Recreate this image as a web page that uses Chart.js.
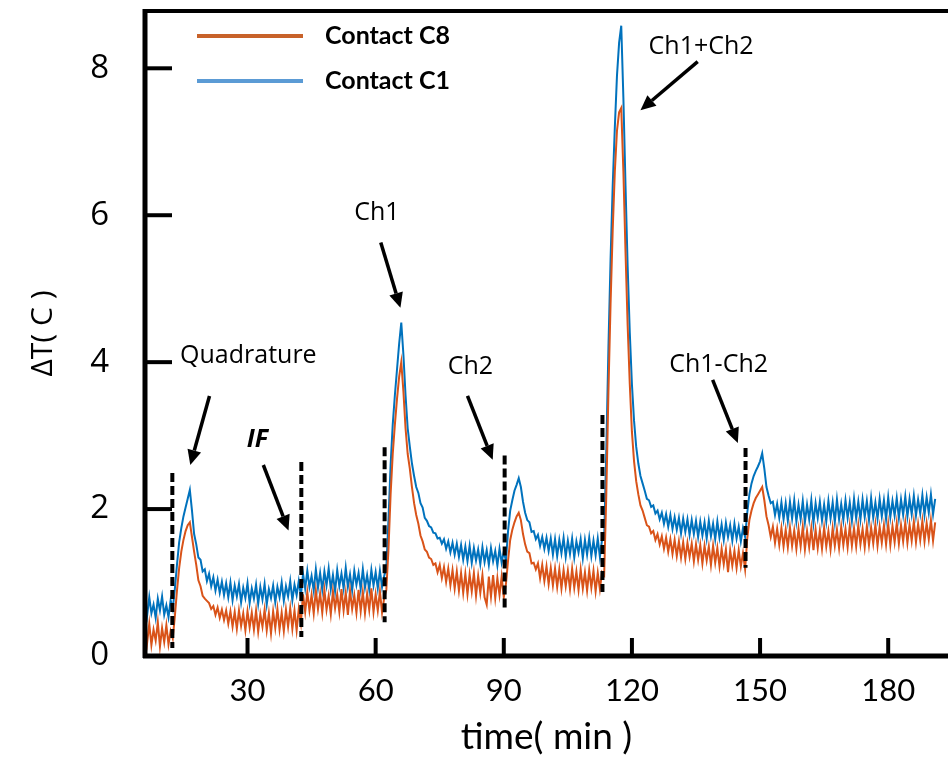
<!DOCTYPE html>
<html>
<head>
<meta charset="utf-8">
<script src="https://cdn.jsdelivr.net/npm/chart.js@4.4.1/dist/chart.umd.min.js"></script>
<style>
  html, body { margin: 0; padding: 0; background: #fff; }
</style>
</head>
<body>
<canvas id="tempChart" width="952" height="760"></canvas>
<script>
// samples are every half minute, starting at 6 min
var sampleStart = 6;
var sampleStep = 0.5;

var xTickValues = [30, 60, 90, 120, 150, 180];
var yTickValues = [0, 2, 4, 6, 8];

// Contact C1 (blue)
var contactC1 = [
  0.74,0.55,0.80,0.58,0.70,0.52,0.78,0.62,0.81,0.56,
  0.69,0.53,0.76,0.64,0.92,1.25,1.55,1.74,1.90,2.02,
  2.14,2.26,1.98,1.66,1.52,1.34,1.31,1.15,1.18,1.02,
  1.12,0.95,1.07,0.89,1.04,0.86,1.01,0.83,0.99,0.80,
  1.00,0.76,0.96,0.81,0.98,0.73,0.93,0.79,0.99,0.72,
  0.92,0.78,0.97,0.71,0.94,0.77,0.98,0.70,0.91,0.79,
  0.96,0.73,0.94,0.80,1.00,0.75,0.95,0.81,1.02,0.76,
  0.97,0.83,1.02,0.82,1.12,0.92,1.16,0.94,1.09,0.89,
  1.18,0.93,1.13,0.90,1.15,0.96,1.19,0.91,1.10,0.88,
  1.17,0.95,1.12,0.92,1.20,0.94,1.11,0.89,1.16,0.97,
  1.13,0.91,1.18,0.93,1.10,0.90,1.17,0.96,1.14,0.92,
  1.16,0.94,1.09,1.20,1.85,2.60,3.15,3.55,3.90,4.25,
  4.54,4.10,3.55,3.10,2.85,2.62,2.45,2.30,2.22,2.08,
  2.02,1.88,1.84,1.77,1.75,1.68,1.67,1.60,1.61,1.53,
  1.59,1.46,1.56,1.41,1.54,1.38,1.53,1.35,1.51,1.31,
  1.49,1.29,1.50,1.27,1.47,1.30,1.45,1.25,1.48,1.28,
  1.44,1.24,1.47,1.29,1.43,1.23,1.46,1.27,1.42,1.30,
  1.70,1.98,2.12,2.25,2.33,2.42,2.30,2.10,1.95,1.85,
  1.82,1.69,1.70,1.59,1.65,1.50,1.62,1.46,1.61,1.43,
  1.60,1.38,1.59,1.36,1.58,1.40,1.61,1.35,1.57,1.39,
  1.60,1.34,1.56,1.41,1.59,1.33,1.58,1.38,1.61,1.36,
  1.57,1.37,1.60,1.35,1.58,1.60,2.80,4.20,5.40,6.40,
  7.20,7.90,8.35,8.58,7.60,6.40,5.30,4.40,3.70,3.20,
  2.85,2.62,2.45,2.35,2.25,2.14,2.12,2.03,2.05,1.94,
  1.98,1.86,1.95,1.80,1.93,1.76,1.92,1.73,1.89,1.72,
  1.88,1.67,1.87,1.69,1.86,1.65,1.85,1.66,1.84,1.62,
  1.83,1.64,1.82,1.60,1.84,1.63,1.80,1.59,1.83,1.61,
  1.79,1.58,1.81,1.62,1.78,1.57,1.80,1.60,1.76,1.56,
  1.74,1.62,1.95,2.20,2.35,2.45,2.52,2.58,2.65,2.76,
  2.55,2.30,2.18,2.08,2.10,1.92,2.07,1.88,2.09,1.86,
  2.08,1.84,2.10,1.87,2.12,1.83,2.06,1.86,2.11,1.82,
  2.06,1.86,2.12,1.81,2.08,1.88,2.10,1.84,2.06,1.83,
  2.11,1.87,2.09,1.82,2.13,1.86,2.07,1.85,2.12,1.88,
  2.09,1.84,2.14,1.87,2.10,1.86,2.13,1.89,2.11,1.85,
  2.15,1.88,2.09,1.87,2.14,1.90,2.12,1.86,2.16,1.89,
  2.11,1.91,2.15,1.88,2.13,1.92,2.17,1.90,2.14,1.93,
  2.18,1.91,2.13,1.94,2.19,1.92,2.16,1.95,2.20,1.93,
  2.14
];

// Contact C8 (orange)
var contactC8 = [
  0.40,0.18,0.44,0.15,0.36,0.21,0.46,0.13,0.38,0.19,
  0.42,0.16,0.34,0.24,0.55,0.90,1.20,1.42,1.58,1.70,
  1.78,1.82,1.62,1.42,1.24,1.03,0.95,0.82,0.78,0.75,
  0.72,0.64,0.68,0.56,0.66,0.52,0.63,0.49,0.62,0.44,
  0.61,0.40,0.60,0.37,0.62,0.41,0.58,0.35,0.61,0.39,
  0.59,0.36,0.62,0.33,0.57,0.40,0.63,0.35,0.58,0.31,
  0.61,0.38,0.64,0.36,0.59,0.34,0.63,0.40,0.65,0.37,
  0.62,0.35,0.64,0.45,0.84,0.60,0.87,0.62,0.83,0.58,
  0.89,0.64,0.85,0.59,0.90,0.63,0.82,0.57,0.88,0.65,
  0.84,0.60,0.91,0.62,0.86,0.56,0.89,0.64,0.83,0.59,
  0.90,0.61,0.87,0.58,0.85,0.63,0.92,0.60,0.84,0.62,
  0.88,0.59,0.79,0.90,1.45,2.20,2.75,3.15,3.50,3.80,
  4.00,3.60,3.10,2.75,2.55,2.30,2.08,1.92,1.80,1.64,
  1.56,1.45,1.42,1.34,1.32,1.24,1.26,1.14,1.24,1.06,
  1.21,1.01,1.19,0.96,1.17,0.92,1.15,0.89,1.13,0.86,
  1.12,0.84,1.11,0.88,1.13,0.82,1.09,0.86,1.10,0.80,
  0.70,1.08,0.81,1.10,0.79,1.06,0.83,1.08,0.80,0.98,
  1.30,1.58,1.72,1.82,1.90,1.95,1.85,1.66,1.52,1.42,
  1.40,1.26,1.27,1.18,1.26,1.06,1.24,1.02,1.22,0.98,
  1.20,0.96,1.19,0.94,1.18,0.92,1.17,0.95,1.16,0.91,
  1.19,0.93,1.15,0.90,1.18,0.92,1.14,0.89,1.17,0.93,
  1.16,0.88,1.13,0.91,1.14,1.10,2.20,3.60,4.80,5.80,
  6.60,7.15,7.40,7.46,6.60,5.50,4.50,3.70,3.05,2.65,
  2.38,2.20,2.05,1.98,1.88,1.78,1.76,1.67,1.70,1.58,
  1.66,1.52,1.63,1.46,1.61,1.42,1.59,1.39,1.58,1.36,
  1.56,1.34,1.55,1.32,1.54,1.35,1.53,1.29,1.52,1.31,
  1.51,1.26,1.50,1.30,1.49,1.24,1.50,1.27,1.47,1.22,
  1.46,1.25,1.45,1.14,1.44,1.23,1.43,1.20,1.44,1.22,
  1.40,1.18,1.60,1.85,1.98,2.08,2.15,2.20,2.25,2.30,
  2.12,1.90,1.78,1.62,1.76,1.54,1.73,1.51,1.74,1.49,
  1.72,1.48,1.75,1.50,1.71,1.46,1.73,1.49,1.76,1.45,
  1.70,1.48,1.74,1.44,1.72,1.47,1.71,1.46,1.75,1.49,
  1.70,1.45,1.74,1.50,1.72,1.47,1.76,1.51,1.73,1.48,
  1.77,1.50,1.74,1.49,1.78,1.52,1.73,1.48,1.77,1.51,
  1.75,1.53,1.79,1.50,1.76,1.54,1.78,1.52,1.80,1.51,
  1.77,1.55,1.81,1.53,1.78,1.56,1.82,1.54,1.79,1.57,
  1.83,1.55,1.80,1.58,1.84,1.56,1.81,1.59,1.85,1.57,
  1.82
];

// dashed event markers: [time, low, high]
var markers = [
  [12.4, 0.11, 2.49],
  [42.6, 0.26, 2.64],
  [62.1, 0.46, 2.84],
  [90.2, 0.65, 2.73],
  [113.1, 0.87, 3.28],
  [146.6, 1.20, 2.83]
];

// annotation text: [text, time, value, font]
var notes = [
  ['Quadrature', 30.2, 4.08, '25px "Open Sans"'],
  ['IF', 32.3, 2.94, 'italic bold 25px "Open Sans"'],
  ['Ch1', 60.3, 6.03, '25px "Open Sans"'],
  ['Ch2', 82.2, 3.93, '25px "Open Sans"'],
  ['Ch1+Ch2', 136.2, 8.29, '25px "Open Sans"'],
  ['Ch1-Ch2', 140.3, 3.96, '25px "Open Sans"']
];

// arrows: [fromTime, fromValue, toTime, toValue]
var arrows = [
  [21.1, 3.54, 16.6, 2.60],
  [33.7, 2.60, 39.6, 1.71],
  [61.2, 5.63, 65.8, 4.74],
  [81.5, 3.54, 87.4, 2.67],
  [135.4, 8.09, 122.0, 7.43],
  [138.9, 3.76, 144.8, 2.90]
];

function toPoints(values) {
  var pts = [];
  for (var i = 0; i < values.length; i++) {
    pts.push({ x: sampleStart + i * sampleStep, y: values[i] });
  }
  return pts;
}

function drawArrow(c, x1, y1, x2, y2) {
  var ang = Math.atan2(y2 - y1, x2 - x1);
  var head = 15, half = 7;
  var bx = x2 - head * Math.cos(ang), by = y2 - head * Math.sin(ang);
  c.beginPath();
  c.moveTo(x1, y1);
  c.lineTo(bx, by);
  c.stroke();
  c.beginPath();
  c.moveTo(x2, y2);
  c.lineTo(bx + half * Math.sin(ang), by - half * Math.cos(ang));
  c.lineTo(bx - half * Math.sin(ang), by + half * Math.cos(ang));
  c.closePath();
  c.fill();
}

var overlay = {
  id: 'overlay',
  afterDatasetsDraw: function (chart) {
    var c = chart.ctx, a = chart.chartArea;
    var xs = chart.scales.x, ys = chart.scales.y;
    c.save();
    c.strokeStyle = '#000';
    c.fillStyle = '#000';

    // dashed event lines
    c.lineWidth = 4;
    c.setLineDash([9, 4]);
    markers.forEach(function (m) {
      var px = xs.getPixelForValue(m[0]);
      c.beginPath();
      c.moveTo(px, ys.getPixelForValue(m[2]));
      c.lineTo(px, ys.getPixelForValue(m[1]));
      c.stroke();
    });
    c.setLineDash([]);

    // arrows
    c.lineWidth = 3.5;
    arrows.forEach(function (r) {
      drawArrow(c, xs.getPixelForValue(r[0]), ys.getPixelForValue(r[1]),
                xs.getPixelForValue(r[2]), ys.getPixelForValue(r[3]));
    });

    // annotation labels
    c.textAlign = 'center';
    c.textBaseline = 'middle';
    notes.forEach(function (n) {
      c.font = n[3];
      c.fillText(n[0], xs.getPixelForValue(n[1]), ys.getPixelForValue(n[2]));
    });

    // frame: left axis, bottom axis, top line
    c.lineWidth = 5;
    c.beginPath();
    c.moveTo(a.left, a.top - 2);
    c.lineTo(a.left, a.bottom + 2);
    c.moveTo(a.left - 2, a.bottom);
    c.lineTo(a.right, a.bottom);
    c.stroke();
    c.lineWidth = 4;
    c.beginPath();
    c.moveTo(a.left - 2, a.top);
    c.lineTo(a.right, a.top);
    c.stroke();

    // inward tick marks
    c.lineWidth = 4;
    yTickValues.forEach(function (v) {
      if (v === 0) return;
      var py = ys.getPixelForValue(v);
      c.beginPath();
      c.moveTo(a.left, py);
      c.lineTo(a.left + 27, py);
      c.stroke();
    });
    xTickValues.forEach(function (v) {
      var px = xs.getPixelForValue(v);
      c.beginPath();
      c.moveTo(px, a.bottom);
      c.lineTo(px, a.bottom - 18);
      c.stroke();
    });

    // legend
    var items = chart.data.datasets;
    c.lineWidth = 4;
    c.textAlign = 'left';
    c.font = 'bold 25px Lato';
    items.forEach(function (d, i) {
      var ly = a.top + 25 + i * 45;
      c.strokeStyle = d.legendColor;
      c.beginPath();
      c.moveTo(a.left + 52, ly);
      c.lineTo(a.left + 158, ly);
      c.stroke();
      c.fillStyle = '#000';
      c.fillText(d.label, a.left + 180, ly);
    });
    c.restore();
  }
};

new Chart(document.getElementById('tempChart'), {
  type: 'line',
  data: {
    datasets: [{
      label: 'Contact C8',
      data: toPoints(contactC8),
      borderColor: '#d95319',
      legendColor: '#c8622a',
      borderWidth: 2,
      pointRadius: 0,
      tension: 0
    }, {
      label: 'Contact C1',
      data: toPoints(contactC1),
      borderColor: '#0072bd',
      legendColor: '#5b9bd5',
      borderWidth: 2,
      pointRadius: 0,
      tension: 0
    }]
  },
  options: {
    responsive: false,
    animation: false,
    layout: {
      padding: { top: 11, right: 4, left: 0, bottom: 0 }
    },
    plugins: {
      legend: { display: false },
      tooltip: { enabled: false }
    },
    scales: {
      x: {
        type: 'linear',
        min: 6,
        max: 194,
        afterBuildTicks: function (s) {
          s.ticks = xTickValues.map(function (v) { return { value: v }; });
        },
        afterFit: function (s) {
          s.height = 104;
          s.paddingLeft = 0;
          s.paddingRight = 0;
        },
        border: { display: false },
        grid: { display: false, drawTicks: false },
        ticks: {
          color: '#000',
          padding: 16,
          font: { family: 'Lato', size: 31 }
        },
        title: {
          display: true,
          text: 'time( min )',
          color: '#000',
          font: { family: 'Lato', size: 37, lineHeight: 1 },
          padding: { top: 0, bottom: 4 }
        }
      },
      y: {
        min: 0,
        max: 8.78,
        afterBuildTicks: function (s) {
          s.ticks = yTickValues.map(function (v) { return { value: v }; });
        },
        afterFit: function (s) {
          s.width = 145;
          s.paddingTop = 0;
          s.paddingBottom = 0;
        },
        border: { display: false },
        grid: { display: false, drawTicks: false },
        ticks: {
          color: '#000',
          padding: 36,
          font: { family: 'Open Sans', size: 33 }
        },
        title: {
          display: true,
          text: 'ΔT( C )',
          color: '#000',
          font: { family: 'Open Sans', size: 30, lineHeight: 1 },
          padding: { top: 28, bottom: 0 }
        }
      }
    }
  },
  plugins: [overlay]
});
</script>
</body>
</html>
